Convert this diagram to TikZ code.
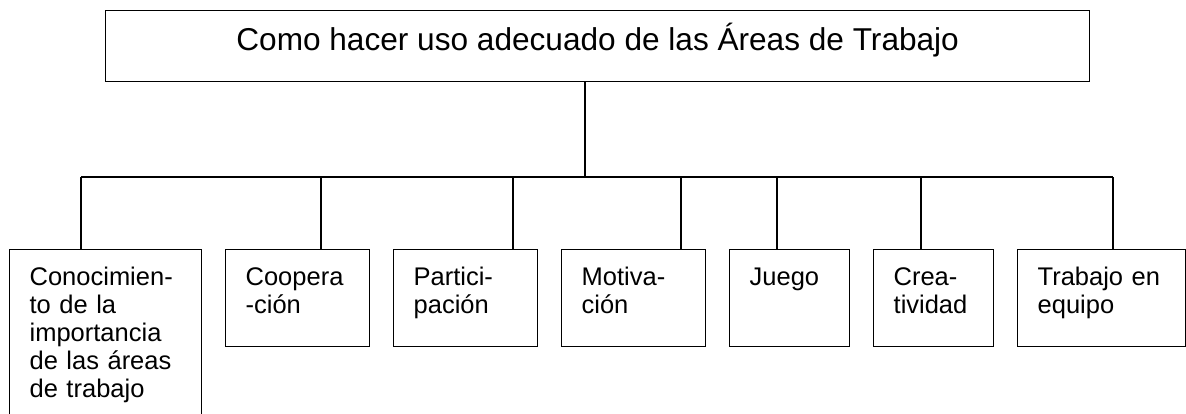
\documentclass[tikz,border=0pt]{standalone}
\usepackage{fontspec}
\setmainfont{Liberation Sans}

\begin{document}
\begin{tikzpicture}[x=1pt,y=-1pt,line width=1.3pt,
                        title node/.style={draw,rectangle,anchor=north west,inner sep=0pt,
                            minimum width=984pt,text height=40pt,text depth=31pt,
                            font=\fontsize{31.6}{37}\selectfont},
                        area node/.style={draw,rectangle,anchor=north west,inner xsep=20pt,inner ysep=0pt,
                            align=left,text height=35.5pt,text depth=61.5pt,
                            font=\fontsize{25.5}{28}\selectfont}]

    \useasboundingbox (0,0) rectangle (1186,413);
    \clip (0,0) rectangle (1186,413);

    % Define vertices
    \node[title node] (T) at (105,9.5) {Como hacer uso adecuado de las Áreas de Trabajo};

    \node[area node,text width=152pt,text depth=145.5pt] (A1) at (9,249)
        {Conocimien-\\to de la\\importancia\\de las áreas\\de trabajo};
    \node[area node,text width=104pt] (A2) at (225,249) {Coopera\\-ción};
    \node[area node,text width=104pt] (A3) at (393,249) {Partici-\\pación};
    \node[area node,text width=104pt] (A4) at (561,249) {Motiva-\\ción};
    \node[area node,text width=80pt] (A5) at (729,249) {Juego};
    \node[area node,text width=80pt] (A6) at (873,249) {Crea-\\tividad};
    \node[area node,text width=128pt] (A7) at (1017,249) {Trabajo en\\equipo};

    % Define edges
    \coordinate (J) at (585,177);
    \coordinate (b1) at (81,177);
    \coordinate (b2) at (321,177);
    \coordinate (b3) at (513,177);
    \coordinate (b4) at (681,177);
    \coordinate (b5) at (777,177);
    \coordinate (b6) at (921,177);
    \coordinate (b7) at (1113,177);

    \draw (J |- T.south) -- (J);
    \draw (b1) -- (b7);
    \draw (b1) -- (b1 |- A1.north);
    \draw (b2) -- (b2 |- A2.north);
    \draw (b3) -- (b3 |- A3.north);
    \draw (b4) -- (b4 |- A4.north);
    \draw (b5) -- (b5 |- A5.north);
    \draw (b6) -- (b6 |- A6.north);
    \draw (b7) -- (b7 |- A7.north);

    \end{tikzpicture}
\end{document}
